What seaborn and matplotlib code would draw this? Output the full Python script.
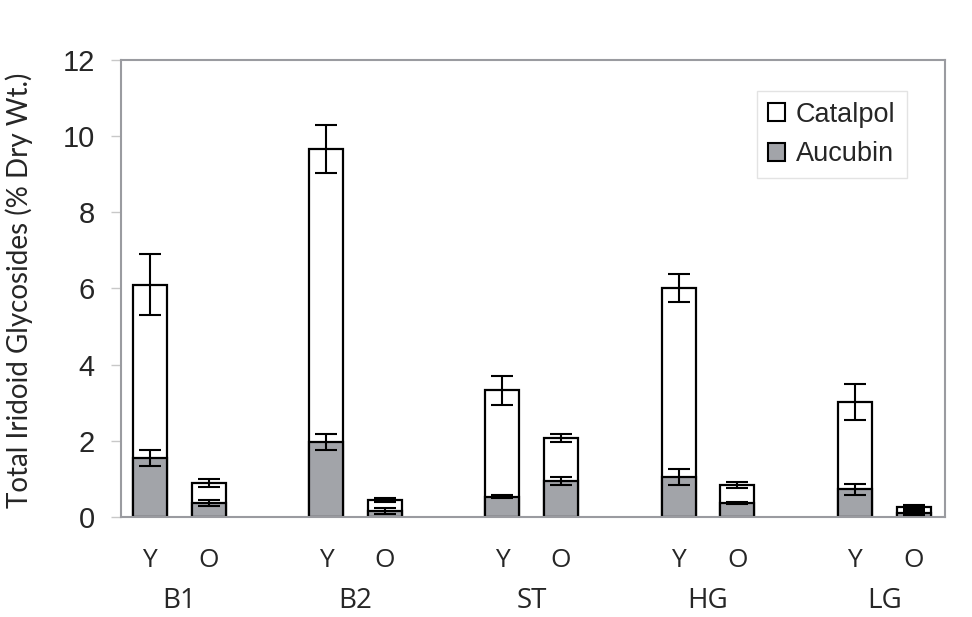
import numpy as np
import pandas as pd
import matplotlib
matplotlib.use("Agg")
import matplotlib.pyplot as plt
import seaborn as sns
from matplotlib.patches import Patch
import matplotlib.transforms as mtransforms

groups = ["B1", "B2", "ST", "HG", "LG"]
ages = ["Y", "O"]
total = [6.10, 0.89, 9.66, 0.44, 3.33, 2.07, 6.01, 0.84, 3.02, 0.27]
total_err = [0.80, 0.10, 0.62, 0.05, 0.38, 0.11, 0.37, 0.08, 0.47, 0.05]
aucubin = [1.55, 0.37, 1.97, 0.17, 0.53, 0.94, 1.05, 0.37, 0.73, 0.10]
aucubin_err = [0.20, 0.08, 0.20, 0.08, 0.04, 0.10, 0.20, 0.03, 0.15, 0.05]

sns.set_theme(style="white")
plt.rcParams["font.family"] = ["Liberation Sans", "DejaVu Sans"]
side_font = ["Open Sans", "DejaVu Sans"]
label_font = ["Lato", "DejaVu Sans"]

slots = []
for i, g in enumerate(groups):
    slots += [f"{g}-Y", f"{g}-O"]
    if i < len(groups) - 1:
        slots.append(f"gap{i}")
bar_ids = [f"{g}-{a}" for g in groups for a in ages]
df = pd.DataFrame({"slot": bar_ids, "total": total, "aucubin": aucubin,
                   "total_err": total_err, "aucubin_err": aucubin_err})

fig = plt.figure(figsize=(9.72, 6.17), dpi=100)
ax = fig.add_axes([0.1245, 0.162, 0.848, 0.741])

grey = "#a2a4a9"
sns.barplot(data=df, x="slot", y="total", order=slots, color="white",
            edgecolor="black", linewidth=1.6, width=0.58, errorbar=None,
            saturation=1, ax=ax)
sns.barplot(data=df, x="slot", y="aucubin", order=slots, color=grey,
            edgecolor="black", linewidth=1.6, width=0.58, errorbar=None,
            saturation=1, ax=ax)

pos = np.array([slots.index(s) for s in bar_ids])
ax.errorbar(pos, df["total"], yerr=df["total_err"], fmt="none", ecolor="black",
            elinewidth=1.5, capsize=8, capthick=1.5, zorder=5)
ax.errorbar(pos, df["aucubin"], yerr=df["aucubin_err"], fmt="none", ecolor="black",
            elinewidth=1.5, capsize=8, capthick=1.5, zorder=5)

ax.set_xlim(-0.49, len(slots) - 1 + 0.54)
ax.set_ylim(0, 12)
ax.set_yticks(range(0, 13, 2))
ax.tick_params(axis="y", labelsize=21, length=7, width=1, color="#c8c8c8",
               left=True, pad=12)
ax.set_xticks(pos)
ax.set_xticklabels([a for g in groups for a in ages], fontsize=19, family=side_font)
ax.tick_params(axis="x", length=0, pad=22)
ax.set_xlabel("")
ax.set_ylabel("Total Iridoid Glycosides (% Dry Wt.)", fontsize=20, family=label_font)
ax.yaxis.set_label_coords(-0.107, 0.497)

trans = mtransforms.blended_transform_factory(ax.transData, ax.transAxes)
for i, g in enumerate(groups):
    c = (pos[2 * i] + pos[2 * i + 1]) / 2
    ax.text(c, -0.184, g, transform=trans, ha="center", va="center",
            fontsize=20, family=side_font)

for s in ax.spines.values():
    s.set_color("#9a9ba0")
    s.set_linewidth(1.5)

handles = [Patch(facecolor="white", edgecolor="black", linewidth=1.5, label="Catalpol"),
           Patch(facecolor=grey, edgecolor="black", linewidth=1.5, label="Aucubin")]
leg = ax.legend(handles=handles, loc="upper right", bbox_to_anchor=(0.953, 0.932),
                fontsize=19.5, frameon=True, fancybox=False, handlelength=0.63,
                handleheight=0.63, handletextpad=0.4, borderpad=0.4,
                labelspacing=0.5, borderaxespad=0)
leg.get_frame().set_edgecolor("#dddddd")
leg.get_frame().set_linewidth(1)

fig.savefig("out.png", dpi=100, facecolor="white")
